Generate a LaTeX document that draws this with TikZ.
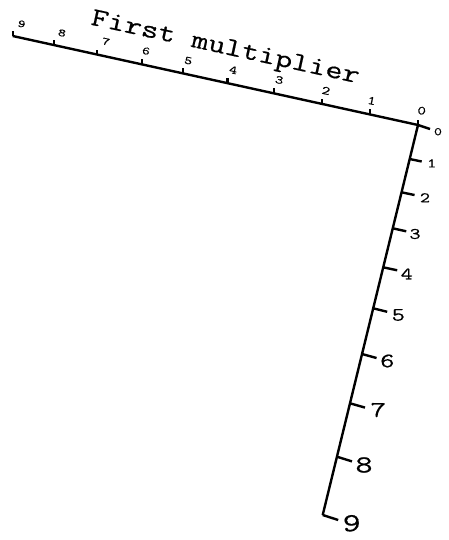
\documentclass[tikz,border=0pt]{standalone}
\usepackage{fontspec}
\newfontfamily\hfont{Latin Modern Mono}[FakeStretch=1.35, FakeBold=0.5]
\newfontfamily\tfont{Latin Modern Mono}[FakeStretch=1.28, FakeBold=0.5]
\begin{document}
\begin{tikzpicture}[x=1pt,y=-1pt,
  axis/.style={line width=2.4pt, line cap=butt, line join=miter},
  lab/.style={font=\hfont\fontsize{#1}{#1}\selectfont, inner sep=0pt, anchor=center},
  toplab/.style={lab=#1, rotate=-12}]
\useasboundingbox (0,0) rectangle (449,540);
\coordinate (O) at (418,125);
\coordinate (A) at (12.7,36);
\coordinate (B) at (322.7,515);
\draw[axis] (A) -- (O) -- (B);
% tick points on first axis
\foreach \n/\p in {0/0,1/0.1184,2/0.2376,3/0.3546,4/0.4705,5/0.5791,6/0.6817,7/0.7913,8/0.8974,9/1}
  \path (O) -- (A) coordinate[pos=\p] (a\n);
\foreach \n in {0,...,9}
  \draw[axis] (a\n) -- ++(0,-5);
% tick points on second axis
\foreach \n/\p in {0/0,1/0.0872,2/0.1726,3/0.2649,4/0.3649,5/0.4700,6/0.5872,7/0.7136,8/0.8505,9/1}
  \path (O) -- (B) coordinate[pos=\p] (b\n);
\foreach \n/\dx/\dy in {0/12/4,1/12/2.5,2/13/2.7,3/13.5/3,4/14/3,5/14/3.5,6/14.5/4,7/15/4.3,8/15/4.7,9/15.5/5}
  \draw[axis] (b\n) -- ++(\dx,\dy);
% labels first axis
\foreach \n/\x/\y/\s in {0/421.7/110.7/12.5,1/371.7/100.7/12.3,2/326/90.7/12.1,3/279.3/80/11.9,4/233.3/70/11.7,5/188.3/60.7/11.5,6/146/51/11.3,7/106/41.7/11.1,8/62/33/10.9,9/21.7/24/10.7}
  \node[toplab=\s] (la\n) at (\x,\y) {\n};
% labels second axis
\foreach \n/\x/\y/\s in {0/438/131.7/11.5,1/431.7/163.3/13,2/425/197.7/14.5,3/415/234/16,4/406.7/274/17.5,5/398.3/315/19,6/387.3/361/20.5,7/378.3/410/22.5,8/364/465/24.5,9/351.7/523.3/26}
  \node[lab=\s] (lb\n) at (\x,\y) {\n};
% title
\node[inner sep=0pt, font=\tfont\fontsize{26}{26}\selectfont, rotate=-12.4] (title) at (225,49) {First multiplier};
\end{tikzpicture}
\end{document}
